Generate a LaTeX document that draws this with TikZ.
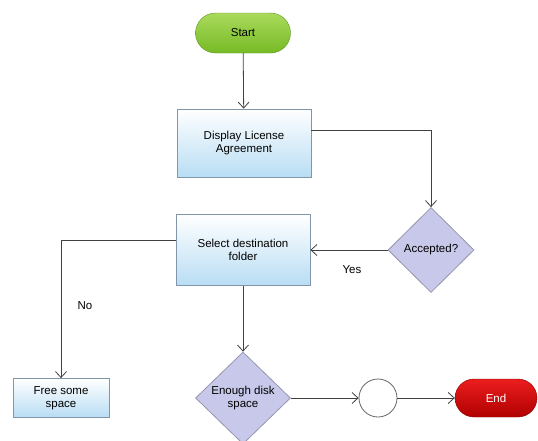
\documentclass[tikz,border=0pt]{standalone}
\usepackage{fontspec}
\setmainfont{Liberation Sans}
\usetikzlibrary{shapes.geometric,shapes.misc,arrows.meta}

\definecolor{greenTop}{RGB}{170,218,92}
\definecolor{greenBot}{RGB}{118,186,38}
\definecolor{blueBot}{RGB}{184,221,244}
\definecolor{boxLine}{RGB}{130,150,170}
\definecolor{lilac}{RGB}{200,200,234}
\definecolor{lilacLine}{RGB}{150,150,175}
\definecolor{redTop}{RGB}{236,30,30}
\definecolor{redBot}{RGB}{176,0,0}

\tikzset{
  flowline/.style={draw=black!75,line width=0.8pt},
  arr/.style={flowline,-{Straight Barb[length=6pt,width=11pt]}},
  terminal/.style={rounded rectangle,minimum height=40pt,inner sep=0pt},
  process/.style={rectangle,draw=boxLine,line width=0.8pt,top color=white,
    bottom color=blueBot,align=center,minimum width=134pt,inner sep=0pt},
  decision/.style={diamond,draw=lilacLine,line width=0.8pt,fill=lilac,
    align=center,inner sep=0pt},
  joint/.style={circle,draw=black!60,line width=0.8pt,fill=white,
    minimum size=38pt,inner sep=0pt}
}

\begin{document}
\begin{tikzpicture}[x=1pt,y=-1pt,font=\fontsize{11.5}{13.5}\selectfont]
\useasboundingbox (0,0) rectangle (538,440);
\node[terminal,draw=greenBot!80!black,top color=greenTop,bottom color=greenBot,
  minimum width=95pt] (start) at (243,33) {Start};
\node[process,minimum height=68pt] (licence) at (244,143) {Display License\\Agreement};
\node[decision,minimum width=86pt,minimum height=85pt] (accepted) at (431,250) {Accepted?};
\node[process,minimum height=71pt] (select) at (243,250) {Select destination\\folder};
\node[process,minimum width=96pt,minimum height=39pt] (free) at (61,398) {Free some\\space};
\node[decision,minimum width=95pt,minimum height=92pt] (enough) at (243,398) {Enough disk\\space};
\node[joint] (join) at (378,398) {};
\node[terminal,draw=redBot!80!black,top color=redTop,bottom color=redBot,
  text=white,minimum width=82pt,minimum height=38pt] (end) at (496,398) {End};
\node (yes) at (352,270) {Yes};
\node (no) at (85,306) {No};
% connectors
\draw[arr] (start) -- (licence);
\draw[arr] ([yshift=13pt]licence.east) -| (accepted.north);
\draw[arr] (accepted.west) -- (select.east);
\draw[arr] ([yshift=10pt]select.west) -| (free.north);
\draw[arr] (select) -- (enough);
\draw[arr] (enough) -- (join);
\draw[arr] (join) -- (end);
\end{tikzpicture}
\end{document}
